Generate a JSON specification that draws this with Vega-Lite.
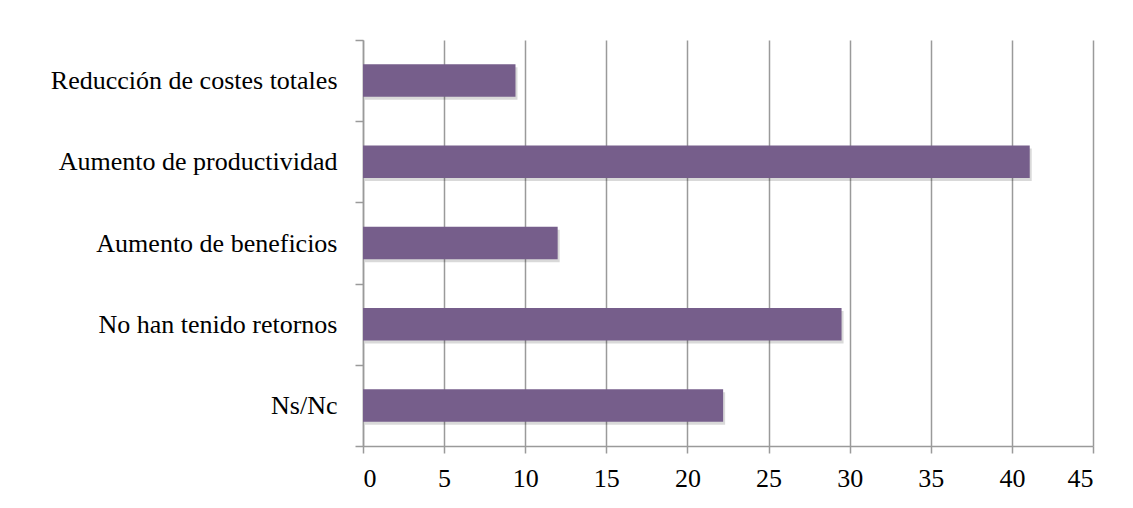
{
  "$schema": "https://vega.github.io/schema/vega-lite/v6.json",
  "autosize": {"type": "none"},
  "padding": {"left": 363, "top": 40, "right": 40, "bottom": 62},
  "width": 730,
  "height": 406,
  "background": "white",
  "config": {
    "view": {"stroke": null},
    "font": "Liberation Serif"
  },
  "data": {
    "values": [
      {"categoria": "Reducción de costes totales", "valor": 9.4},
      {"categoria": "Aumento de productividad", "valor": 41.1},
      {"categoria": "Aumento de beneficios", "valor": 12.0},
      {"categoria": "No han tenido retornos", "valor": 29.5},
      {"categoria": "Ns/Nc", "valor": 22.2}
    ]
  },
  "encoding": {
    "y": {
      "field": "categoria",
      "type": "nominal",
      "sort": null,
      "scale": {"paddingInner": 0, "paddingOuter": 0},
      "axis": {
        "title": null,
        "tickBand": "extent",
        "domainColor": "#9a9a9a",
        "domainWidth": 1.5,
        "tickColor": "#9a9a9a",
        "tickWidth": 1.5,
        "tickSize": 8,
        "labelFontSize": 26,
        "labelColor": "#000000",
        "labelPadding": 18,
        "labelLimit": 400,
        "grid": false
      }
    },
    "x": {
      "field": "valor",
      "type": "quantitative",
      "scale": {"domain": [0, 45], "nice": false},
      "axis": {
        "title": null,
        "values": [0, 5, 10, 15, 20, 25, 30, 35, 40, 45],
        "grid": true,
        "gridColor": "#9a9a9a",
        "gridWidth": 1.5,
        "domainColor": "#9a9a9a",
        "domainWidth": 1.5,
        "tickColor": "#9a9a9a",
        "tickWidth": 1.5,
        "tickSize": 7,
        "labelFontSize": 26,
        "labelColor": "#000000",
        "labelPadding": 12
      }
    }
  },
  "layer": [
    {
      "mark": {"type": "bar", "height": {"band": 0.4}, "color": "#000000", "opacity": 0.15, "xOffset": 2, "yOffset": 3},
      "encoding": {}
    },
    {
      "mark": {"type": "bar", "height": {"band": 0.4}, "color": "#765E8B"},
      "encoding": {}
    }
  ]
}
